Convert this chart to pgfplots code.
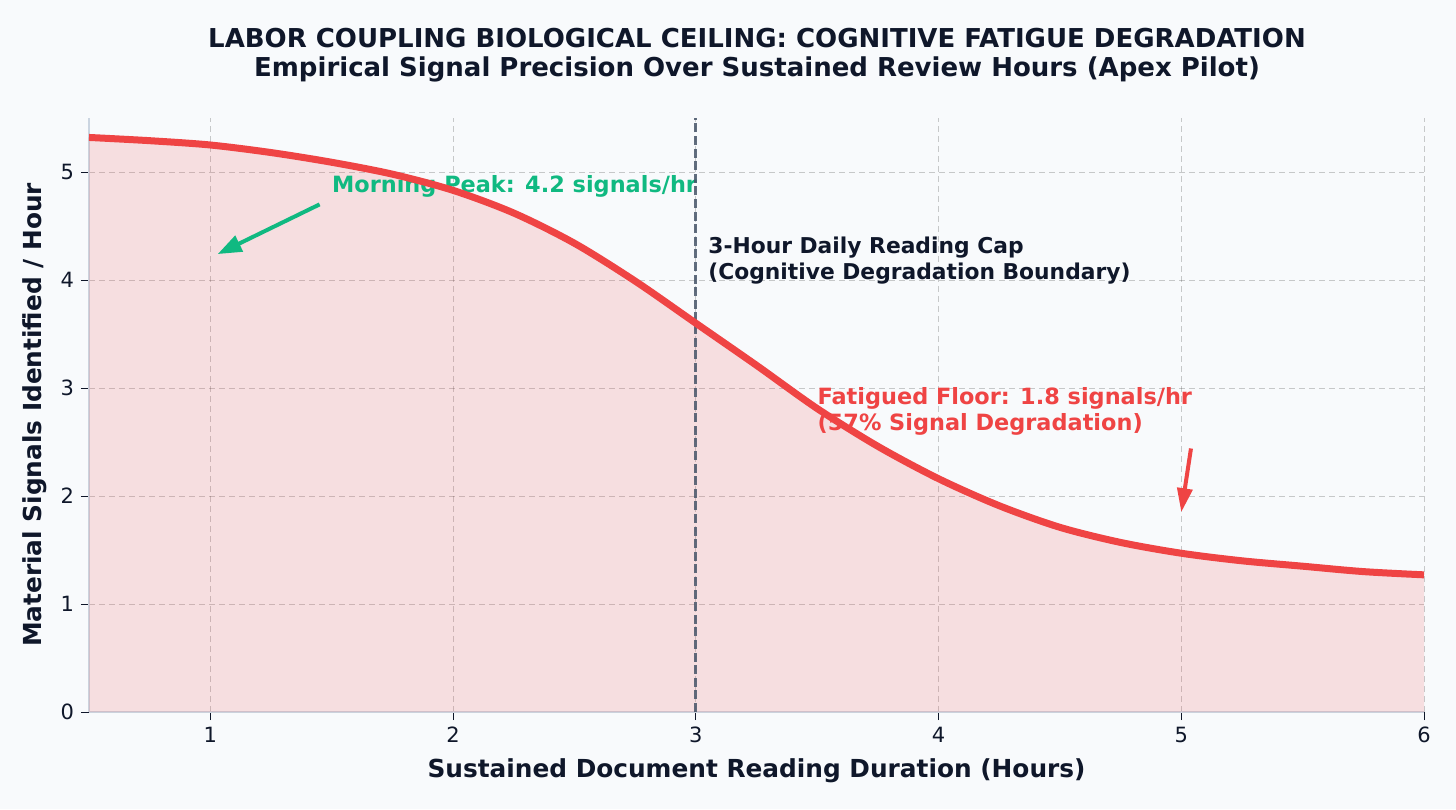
\documentclass[border=0pt]{standalone}
\usepackage{fontspec}
\setmainfont{DejaVu Sans}
\usepackage{pgfplots}
\usepackage{pgfplotstable}
\pgfplotsset{compat=1.18}
\usetikzlibrary{arrows.meta}
\definecolor{bg}{HTML}{F8FAFC}
\definecolor{redc}{HTML}{EF4444}
\definecolor{greenc}{HTML}{10B981}
\definecolor{slatec}{HTML}{475569}
\definecolor{darkc}{HTML}{0F172A}
\definecolor{spinec}{HTML}{CBD5E1}
\pgfplotstableread{
x y
0.5 5.32
0.75 5.29
1.0 5.25
1.25 5.18
1.5 5.09
1.75 4.98
2.0 4.83
2.25 4.62
2.5 4.34
2.75 3.99
3.0 3.60
3.25 3.21
3.5 2.81
3.75 2.46
4.0 2.16
4.25 1.91
4.5 1.71
4.75 1.57
5.0 1.47
5.25 1.40
5.5 1.35
5.75 1.30
6.0 1.27
}\curvedata
\begin{document}
\begin{tikzpicture}
\path[use as bounding box, fill=bg] (-44.5pt,-48.5pt) rectangle (683.5pt,356pt);
\begin{axis}[name=ax, at={(0,0)}, anchor=south west,
  width=667.5pt, height=297pt, scale only axis,
  xmin=0.5, xmax=6, ymin=0, ymax=5.5,
  axis lines=left, axis line style={-, draw=spinec, line width=0.75pt},
  xtick={1,2,3,4,5,6}, ytick={0,1,2,3,4,5},
  tick align=outside, major tick length=4pt,
  tick style={draw=darkc, line width=0.5pt},
  grid=major, grid style={draw=black, draw opacity=0.2, dash pattern=on 3pt off 2pt, line width=0.5pt},
  ticklabel style={font=\fontsize{10.5}{12}\selectfont, text=darkc},
  /pgf/number format/assume math mode=true,
]
\addplot[draw=none, fill=redc, fill opacity=0.15, smooth] table[x=x,y=y] {\curvedata} \closedcycle;
\node[anchor=base west, inner sep=0pt, font=\bfseries\fontsize{11.2}{13}\selectfont, text=greenc] at (axis cs:1.5,4.81) {Morning Peak: 4.2 signals/hr};
\node[anchor=north west, inner sep=0pt, align=left, font=\bfseries\fontsize{10.9}{12.8}\selectfont, text=darkc] at (axis cs:3.05,4.40) {3-Hour Daily Reading Cap\\(Cognitive Degradation Boundary)};
\node[anchor=north west, inner sep=0pt, align=left, font=\bfseries\fontsize{11.2}{13.3}\selectfont, text=redc] at (axis cs:3.5,3.01) {Fatigued Floor: 1.8 signals/hr\\(57\% Signal Degradation)};
\addplot[draw=slatec, draw opacity=0.85, line width=1.4pt, dash pattern=on 4.5pt off 1.8pt] coordinates {(3,0) (3,5.5)};
\addplot[draw=redc, line width=3.5pt, smooth] table[x=x,y=y] {\curvedata};
\draw[greenc, line width=2pt, -{Triangle[length=12pt,width=8.5pt]}] (axis cs:1.45,4.70) -- (axis cs:1.03,4.24);
\draw[redc, line width=2pt, -{Triangle[length=12pt,width=7.5pt]}] (axis cs:5.04,2.44) -- (axis cs:5.0,1.85);
\end{axis}
\node[font=\bfseries\fontsize{13}{15}\selectfont, text=darkc] at ([shift={(334pt,337pt)}]ax.south west) {LABOR COUPLING BIOLOGICAL CEILING: COGNITIVE FATIGUE DEGRADATION};
\node[font=\bfseries\fontsize{13}{15}\selectfont, text=darkc] at ([shift={(334pt,321.5pt)}]ax.south west) {Empirical Signal Precision Over Sustained Review Hours (Apex Pilot)};
\node[font=\bfseries\fontsize{12.4}{14}\selectfont, text=darkc] at ([shift={(333.75pt,-29.5pt)}]ax.south west) {Sustained Document Reading Duration (Hours)};
\node[rotate=90, font=\bfseries\fontsize{12.4}{14}\selectfont, text=darkc] at ([shift={(-27pt,148.5pt)}]ax.south west) {Material Signals Identified / Hour};
\end{tikzpicture}
\end{document}
